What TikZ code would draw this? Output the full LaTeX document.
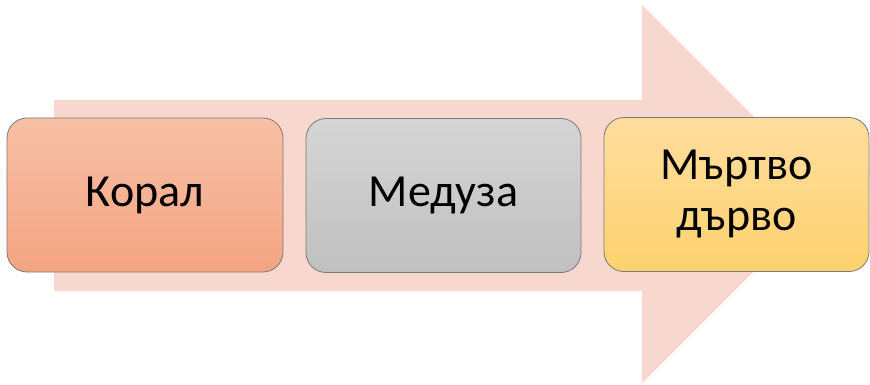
\documentclass[tikz,border=0pt]{standalone}
\usepackage{fontspec}
\setmainfont{Carlito}
\definecolor{arrowfill}{HTML}{F8D8CE}
\definecolor{edgegray}{HTML}{7A7A7A}
\definecolor{coralTop}{HTML}{F7C0A6}
\definecolor{coralBot}{HTML}{F4A482}
\definecolor{grayTop}{HTML}{D5D5D5}
\definecolor{grayBot}{HTML}{C0C0C0}
\definecolor{goldTop}{HTML}{FFDD9E}
\definecolor{goldBot}{HTML}{FED26E}
\tikzset{
  stage/.style={draw=edgegray, line width=0.8pt, rounded corners=20pt,
    minimum width=276pt, minimum height=154pt, inner sep=0pt,
    align=center, font=\fontsize{46}{51}\selectfont, text=black},
}
\begin{document}
\begin{tikzpicture}[x=1pt, y=-1pt]
  \useasboundingbox (0,0) rectangle (870,385);
  % broad process arrow in the background
  \fill[arrowfill] (54,100) -- (642,100) -- (642,5) -- (831,194)
    -- (642,383) -- (642,291) -- (54,291) -- cycle;
  % the three stages
  \node[stage, top color=coralTop, bottom color=coralBot] (coral) at (145,195) {Корал};
  \node[stage, top color=grayTop, bottom color=grayBot, minimum width=275pt] (medusa) at (443.5,195.5) {Медуза};
  \node[stage, top color=goldTop, bottom color=goldBot, minimum width=265pt] (wood) at (736.5,194.5) {Мъртво\\дърво};
\end{tikzpicture}
\end{document}
